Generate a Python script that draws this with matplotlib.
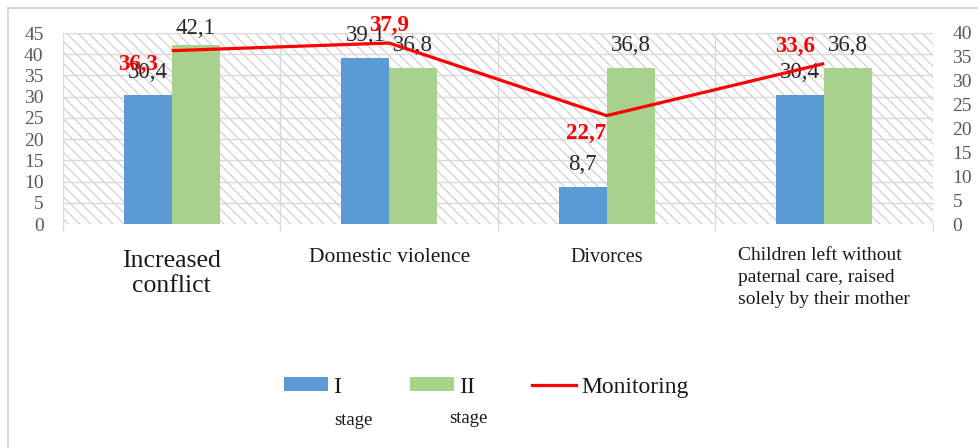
import matplotlib
matplotlib.use('Agg')
from matplotlib import pyplot as plt
from matplotlib.patches import Rectangle, Patch
from matplotlib.lines import Line2D
import numpy as np

categories = ['Increased\nconflict', 'Domestic violence', 'Divorces',
              'Children left without\npaternal care, raised\nsolely by their mother']
stage_1 = [30.4, 39.1, 8.7, 30.4]
stage_2 = [42.1, 36.8, 36.8, 36.8]
monitoring = [36.3, 37.9, 22.7, 33.6]
left_ticks = list(range(0, 50, 5))
right_ticks = list(range(0, 45, 5))

blue = '#5B9BD5'
green = '#A9D18E'
red = '#FF0000'
grid_col = '#d9d9d9'
tick_col = '#595959'

plt.rcParams['font.family'] = ['Liberation Serif', 'DejaVu Serif']
plt.rcParams['hatch.linewidth'] = 0.8

W, H = 979, 448
f = plt.figure(figsize=(W / 100, H / 100), dpi=100)
ax = f.add_axes([63 / W, 1 - 224 / H, (933 - 63) / W, (224 - 33) / H])

x = np.arange(len(categories))
bw = 0.22

# hatched plot background
ax.add_patch(Rectangle((0, 0), 1, 1, transform=ax.transAxes, facecolor='white',
                       edgecolor='#cccccc', linewidth=0, hatch='\\\\\\', zorder=0))

b1 = ax.bar(x - bw / 2, stage_1, bw, color=blue, zorder=2)
b2 = ax.bar(x + bw / 2, stage_2, bw, color=green, zorder=2)

ax.set_xlim(-0.5, len(categories) - 0.5)
ax.set_ylim(0, 45)
ax.set_yticks(left_ticks)
ax.set_axisbelow(True)
ax.grid(axis='y', color=grid_col, linewidth=1)
ax.set_xticks(np.arange(-0.5, len(categories), 1.0), minor=True)
ax.set_xticks(x)
ax.set_xticklabels([])
ax.grid(axis='x', which='minor', color=grid_col, linewidth=1)
ax.grid(axis='x', which='major', visible=False)
ax.tick_params(axis='x', which='major', length=0)
ax.tick_params(axis='x', which='minor', length=5, color=grid_col, width=1)
ax.tick_params(axis='y', length=0, pad=14, labelsize=14, labelcolor=tick_col)
for s in ax.spines.values():
    s.set_visible(False)

for bars, vals in ((b1, stage_1), (b2, stage_2)):
    for rect, v in zip(bars, vals):
        dy = 12 if v > 40 else 16
        ax.annotate(f'{v:.1f}'.replace('.', ','),
                    (rect.get_x() + rect.get_width() / 2, v),
                    xytext=(0, dy), textcoords='offset points',
                    ha='center', va='center', fontsize=16.5, color='#262626', zorder=3)

ax2 = ax.twinx()
ax2.set_ylim(0, 40)
ax2.set_yticks(right_ticks)
ax2.tick_params(axis='y', length=0, pad=14, labelsize=14, labelcolor=tick_col)
for s in ax2.spines.values():
    s.set_visible(False)
ax2.plot(x, monitoring, color=red, linewidth=2.3, solid_capstyle='butt', zorder=4)

red_offsets = [(-24, -10), (0, 13), (-15, -13), (-21, 12)]
for xi, v, off in zip(x, monitoring, red_offsets):
    ax2.annotate(f'{v:.1f}'.replace('.', ','), (xi, v), xytext=off,
                 textcoords='offset points', ha='center', va='center',
                 fontsize=16.5, fontweight='bold', color=red, zorder=5)

# category labels
label_sizes = [18.5, 15.5, 14.5, 14]
label_y = [-0.135, -0.125, -0.125, -0.12]
label_ls = [1.17, 1.2, 1.2, 1.4]
trans = matplotlib.transforms.blended_transform_factory(ax.transData, ax.transAxes)
for xi, lab, fs, yy, ls in zip(x, categories, label_sizes, label_y, label_ls):
    ax.text(xi, yy, lab, transform=trans, ha='center', va='top', fontsize=fs,
            multialignment='left' if xi == 3 else 'center',
            linespacing=ls, color='#1a1a1a')

# legend
handles = [Patch(facecolor=blue, edgecolor='none'),
           Patch(facecolor=green, edgecolor='none'),
           Line2D([], [], color=red, linewidth=2.3)]
f.legend(handles, ['I  ', 'II', 'Monitoring'], loc='center left',
         bbox_to_anchor=(284 / W, 1 - 387 / H), ncol=3, frameon=False,
         fontsize=17, handlelength=1.85, handleheight=0.5, handletextpad=0.25,
         columnspacing=2.4, borderpad=0, borderaxespad=0, labelcolor='#1a1a1a')
f.text(353 / W, 1 - 420 / H, 'stage', ha='center', va='center', fontsize=13.5, color='#1a1a1a')
f.text(468 / W, 1 - 418 / H, 'stage', ha='center', va='center', fontsize=13.5, color='#1a1a1a')

# outer chart border
f.add_artist(Line2D([8 / W, 8 / W], [0, 1 - 8 / H], color=grid_col, linewidth=1.5))
f.add_artist(Line2D([8 / W, 1], [1 - 8 / H, 1 - 8 / H], color=grid_col, linewidth=1.5))

f.savefig('out.png', dpi=100)
